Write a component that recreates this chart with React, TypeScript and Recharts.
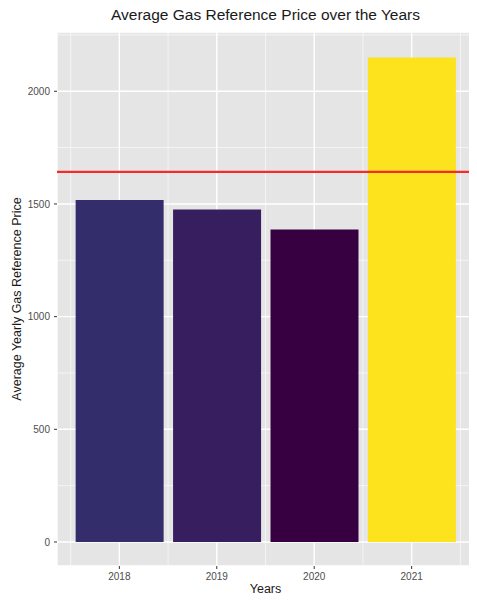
import React from 'react';
import { ComposedChart, Bar, XAxis, YAxis, CartesianGrid, ReferenceLine, Cell } from 'recharts';

const years = ['2018', '2019', '2020', '2021'];
const avgPrice = [1517, 1475, 1387, 2150];
const barColors = ['#342D6C', '#371E5F', '#370041', '#FCE31E'];
const overallAverage = 1642;
const yTicks = [0, 500, 1000, 1500, 2000];
const yMinor = [250, 750, 1250, 1750, 2250];
const xTicks = [1, 2, 3, 4];
const xMinor = [0.5, 1.5, 2.5, 3.5, 4.5];
const xDomain: [number, number] = [0.36, 4.64];
const yDomain: [number, number] = [-106.5, 2263];

const data = years.map((y, i) => ({ pos: i + 1, year: y, price: avgPrice[i] }));

const FONT = '"Liberation Sans", Arial, Helvetica, sans-serif';

function applyScale(s: any, v: number): number | null {
  if (!s) return null;
  if (typeof s === 'function') return s(v);
  if (typeof s.map === 'function') return s.map(v);
  if (typeof s.apply === 'function') return s.apply(v);
  if (typeof s.scale === 'function') return s.scale(v);
  return null;
}

const minorH = (props: any) => {
  const off = props.offset || {};
  return yMinor.map((v) => {
    const r = applyScale(props.yAxis && props.yAxis.scale, v);
    if (r != null && !isNaN(r)) return r;
    return off.top + off.height * (1 - (v - yDomain[0]) / (yDomain[1] - yDomain[0]));
  });
};
const minorV = (props: any) => {
  const off = props.offset || {};
  return xMinor.map((v) => {
    const r = applyScale(props.xAxis && props.xAxis.scale, v);
    if (r != null && !isNaN(r)) return r;
    return off.left + off.width * ((v - xDomain[0]) / (xDomain[1] - xDomain[0]));
  });
};

export default function App() {
  return (
    <div style={{ position: 'relative', width: 477, height: 601, margin: -8, background: '#fff', fontFamily: FONT }}>
      <ComposedChart width={477} height={601} data={data} margin={{ top: 32, right: 3, left: 0, bottom: 0 }}>
        <CartesianGrid fill="#E5E5E5" stroke="#FFFFFF" strokeWidth={1.4} />
        <CartesianGrid
          fill="none"
          stroke="#FFFFFF"
          strokeOpacity={0.85}
          strokeWidth={0.7}
          horizontalCoordinatesGenerator={minorH}
          verticalCoordinatesGenerator={minorV}
        />
        <XAxis
          type="number"
          dataKey="pos"
          domain={xDomain}
          allowDataOverflow
          ticks={xTicks}
          tickFormatter={(v: number) => years[v - 1]}
          height={35}
          axisLine={false}
          tickSize={3}
          tickMargin={4}
          tickLine={{ stroke: '#333333' }}
          tick={{ fill: '#4D4D4D', fontSize: 10, fontFamily: FONT }}
        />
        <YAxis
          type="number"
          domain={yDomain}
          allowDataOverflow
          ticks={yTicks}
          width={57}
          axisLine={false}
          tickSize={3}
          tickMargin={4}
          tickLine={{ stroke: '#333333' }}
          tick={{ fill: '#4D4D4D', fontSize: 10, fontFamily: FONT }}
        />
        <Bar dataKey="price" barSize={88} isAnimationActive={false}>
          {data.map((d, i) => (
            <Cell key={d.year} fill={barColors[i]} />
          ))}
        </Bar>
        <ReferenceLine y={overallAverage} stroke="#F52A2A" strokeWidth={2.2} />
      </ComposedChart>
      <div style={{ position: 'absolute', zIndex: 10, left: 57, width: 417, top: 6, textAlign: 'center', fontSize: 15.5, color: '#1A1A1A', lineHeight: '18px' }}>
        Average Gas Reference Price over the Years
      </div>
      <div style={{ position: 'absolute', zIndex: 10, left: 57, width: 417, top: 582, textAlign: 'center', fontSize: 12.5, color: '#1A1A1A', lineHeight: '15px' }}>
        Years
      </div>
      <div style={{ position: 'absolute', zIndex: 10, left: 17 - 200, width: 400, top: 299 - 8, textAlign: 'center', fontSize: 12.5, color: '#1A1A1A', lineHeight: '16px', transform: 'rotate(-90deg)' }}>
        Average Yearly Gas Reference Price
      </div>
    </div>
  );
}
